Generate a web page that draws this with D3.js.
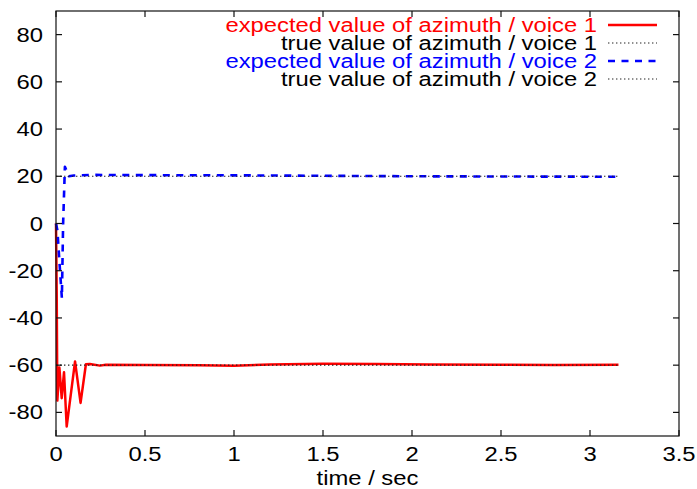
<!DOCTYPE html>
<html>
<head>
<meta charset="utf-8">
<script src="https://cdn.jsdelivr.net/npm/d3@7"></script>
<style>
  html, body { margin: 0; padding: 0; background: #fff; }
  svg { display: block; }
  text { font-family: "Liberation Sans", Arial, Helvetica, sans-serif; }
</style>
</head>
<body>
<svg id="chart" width="697" height="489"></svg>
<script>
// Azimuth estimates for two voices over time
const timeV1   = [0, 0.004, 0.0075, 0.019, 0.032, 0.045, 0.06, 0.107, 0.138, 0.168, 0.19, 0.247, 0.28, 0.5, 0.8, 1.0, 1.2, 1.5, 1.8, 2.1, 2.5, 2.8, 3.16];
const azimuthV1 = [0, -30, -75, -61, -74, -63, -86, -58.4, -76, -59.6, -59.5, -60.2, -59.8, -59.9, -60.0, -60.2, -59.7, -59.4, -59.5, -59.7, -59.8, -59.9, -59.8];

const timeV2   = [0, 0.008, 0.02, 0.033, 0.04, 0.05, 0.072, 0.1, 0.2, 0.4, 1.0, 1.5, 2.0, 2.5, 3.16];
const azimuthV2 = [0, -3, -17, -31.6, 0, 24, 20, 20.3, 20.6, 20.5, 20.4, 20.2, 20.0, 19.9, 19.8];

const trueTime = [0, 3.16];
const trueV1 = [-60, -60];
const trueV2 = [20, 20];

const xTicks = [0, 0.5, 1, 1.5, 2, 2.5, 3, 3.5];
const yTicks = [-80, -60, -40, -20, 0, 20, 40, 60, 80];

const legendLabels = [
  "expected value of azimuth / voice 1",
  "true value of azimuth / voice 1",
  "expected value of azimuth / voice 2",
  "true value of azimuth / voice 2"
];

const svg = d3.select("#chart");
const plotL = 56, plotR = 679, plotT = 11, plotB = 436;
const xs = d3.scaleLinear().domain([0, 3.5]).range([plotL, plotR]);
const ys = d3.scaleLinear().domain([-90, 90]).range([plotB, plotT]);
const stretch = 1.19;   // horizontal widening of the label glyphs
const fontPx = 20;

const series = [
  { t: timeV1, v: azimuthV1, color: "#ff0000", width: 2.5, dash: null },
  { t: trueTime, v: trueV1, color: "#222", width: 1.1, dash: "1.4,2.6" },
  { t: timeV2, v: azimuthV2, color: "#0000ff", width: 2.6, dash: "7,6.5" },
  { t: trueTime, v: trueV2, color: "#222", width: 1.1, dash: "1.4,2.6" }
];

const line = d3.line().x(d => xs(d[0])).y(d => ys(d[1]));

series.forEach(s => {
  svg.append("path")
    .datum(s.t.map((t, i) => [t, s.v[i]]))
    .attr("d", line)
    .attr("fill", "none")
    .attr("stroke", s.color)
    .attr("stroke-width", s.width)
    .attr("stroke-linejoin", "round")
    .attr("stroke-dasharray", s.dash);
});

// Frame with inward ticks on all four sides
const tickLen = 6;
const axisColor = "#111";
const g = svg.append("g").attr("stroke", axisColor).attr("stroke-width", 1.2).attr("fill", "none");
g.append("rect").attr("x", plotL).attr("y", plotT).attr("width", plotR - plotL).attr("height", plotB - plotT);

xTicks.forEach(t => {
  const x = xs(t);
  g.append("line").attr("x1", x).attr("x2", x).attr("y1", plotB).attr("y2", plotB - tickLen);
  g.append("line").attr("x1", x).attr("x2", x).attr("y1", plotT).attr("y2", plotT + tickLen);
});
yTicks.forEach(v => {
  const y = ys(v);
  g.append("line").attr("x1", plotL).attr("x2", plotL + tickLen).attr("y1", y).attr("y2", y);
  g.append("line").attr("x1", plotR).attr("x2", plotR - tickLen).attr("y1", y).attr("y2", y);
});

function label(x, y, txt, anchor, color) {
  svg.append("text")
    .attr("transform", `translate(${x},${y}) scale(${stretch},1)`)
    .attr("text-anchor", anchor)
    .attr("font-size", fontPx)
    .attr("fill", color || "#000")
    .text(txt);
}

const fmtX = d3.format("");
xTicks.forEach(t => label(xs(t), plotB + 25, fmtX(t), "middle"));
yTicks.forEach(v => label(plotL - 13, ys(v) + 7, String(v), "end"));

label((plotL + plotR) / 2, 485, "time / sec", "middle");

// Legend, top right
const legendColors = ["#ff0000", "#000", "#0000ff", "#000"];
legendLabels.forEach((txt, i) => {
  const base = 31.5 + i * 18;
  label(597, base, txt, "end", legendColors[i]);
  const s = series[i];
  svg.append("line")
    .attr("x1", 608).attr("x2", 657)
    .attr("y1", base - 6.5).attr("y2", base - 6.5)
    .attr("stroke", s.color)
    .attr("stroke-width", s.width)
    .attr("stroke-dasharray", s.dash);
});
</script>
</body>
</html>
